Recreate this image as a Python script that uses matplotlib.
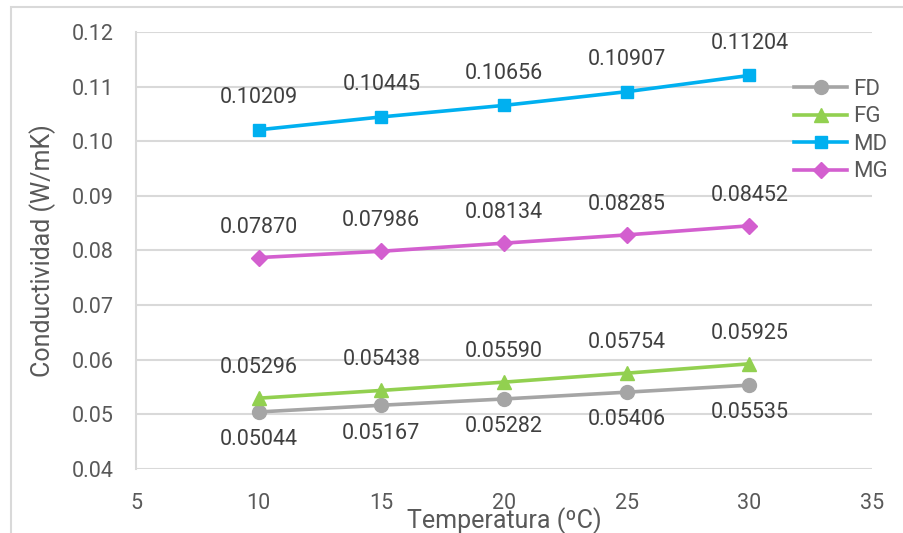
import matplotlib.pyplot as plt
from matplotlib.patches import Rectangle

plt.rcParams['font.family'] = ['Roboto', 'DejaVu Sans']

temperatura = [10, 15, 20, 25, 30]
fd = [0.05044, 0.05167, 0.05282, 0.05406, 0.05535]
fg = [0.05296, 0.05438, 0.05590, 0.05754, 0.05925]
md = [0.10209, 0.10445, 0.10656, 0.10907, 0.11204]
mg = [0.07870, 0.07986, 0.08134, 0.08285, 0.08452]

y_ticks = [0.04, 0.05, 0.06, 0.07, 0.08, 0.09, 0.10, 0.11, 0.12]
x_ticks = [5, 10, 15, 20, 25, 30, 35]

text_color = '#595959'
grid_color = '#D9D9D9'

# name, values, colour, marker, marker size, label offset (points)
series = [
    ('FD', fd, '#A5A5A5', 'o', 10, -20),
    ('FG', fg, '#92D050', '^', 10, 22),
    ('MD', md, '#00B0F0', 's', 9, 23),
    ('MG', mg, '#D35FCF', 'D', 8, 22),
]

fig = plt.figure(figsize=(9.04, 5.33), dpi=100)
ax = fig.add_axes([0.1504, 0.1201, 0.8142, 0.8199])

# thin chart frame
fig.patches.append(Rectangle((11 / 904, -0.1), 1.2, 1.1 - 7 / 533,
                             transform=fig.transFigure, fill=False,
                             edgecolor='#D9D9D9', linewidth=1.5))

for name, vals, color, marker, ms, off in series:
    ax.plot(temperatura, vals, color=color, linewidth=2.6, marker=marker,
            markersize=ms, label=name, zorder=3)
    for x, v in zip(temperatura, vals):
        ax.annotate('{:.5f}'.format(v), (x, v), xytext=(0, off),
                    textcoords='offset points', ha='center', va='center',
                    fontsize=15.5, color='#404040')

ax.set_xlim(5, 35)
ax.set_ylim(0.04, 0.12)
ax.set_xticks(x_ticks)
ax.set_yticks(y_ticks)
ax.set_yticklabels(['{:.2f}'.format(t) for t in y_ticks])
ax.tick_params(length=0, labelsize=15.5, labelcolor=text_color)
ax.tick_params(axis='y', pad=16)
ax.tick_params(axis='x', pad=17)

ax.grid(axis='y', color=grid_color, linewidth=1.5)
ax.set_axisbelow(True)
for side in ['top', 'right', 'bottom']:
    ax.spines[side].set_visible(False)
ax.spines['left'].set_color(grid_color)
ax.spines['left'].set_linewidth(1.5)

ax.set_xlabel('Temperatura (ºC)', fontsize=18, color=text_color)
ax.set_ylabel('Conductividad (W/mK)', fontsize=18, color=text_color)
ax.xaxis.set_label_coords(0.5, -0.088)
ax.yaxis.set_label_coords(-0.108, 0.5)

leg = ax.legend(loc='upper left', bbox_to_anchor=(794 / 904, 1 - 79 / 533),
                bbox_transform=fig.transFigure, frameon=True,
                fontsize=16, handlelength=2.4, handletextpad=0.25,
                labelspacing=0.29, borderpad=0, borderaxespad=0,
                fancybox=False)
leg.get_frame().set_edgecolor('none')
leg.get_frame().set_facecolor('white')
leg.get_frame().set_alpha(1)
for t in leg.get_texts():
    t.set_color(text_color)

fig.savefig('out.png', dpi=100)
